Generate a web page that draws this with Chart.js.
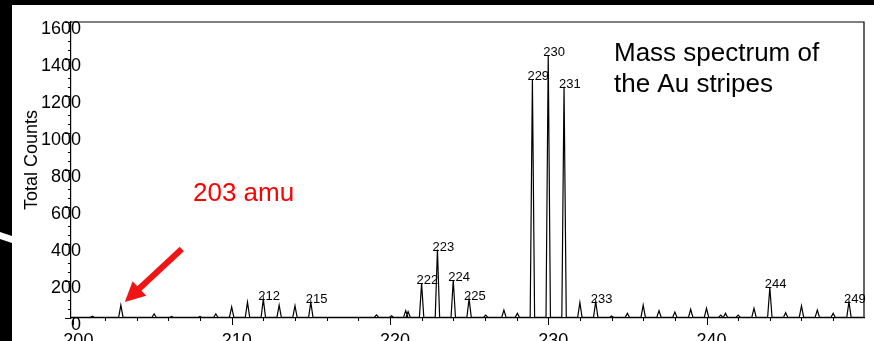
<!DOCTYPE html>
<html>
<head>
<meta charset="utf-8">
<script src="https://cdn.jsdelivr.net/npm/chart.js@4/dist/chart.umd.min.js"></script>
<style>
  html, body { margin: 0; padding: 0; background: #000; }
  #wrap { position: relative; width: 874px; height: 341px; }
  canvas { display: block; }
</style>
</head>
<body>
<div id="wrap"><canvas id="spec" width="874" height="341"></canvas></div>
<script>
// Peak positions (amu) and their total counts
const peakMass = [201.2, 203, 205.1, 206.2, 208, 209, 210, 211, 212, 213, 214, 215,
  219.15, 220.1, 221.0, 221.15, 222, 223, 224, 225, 226.05, 227.2, 228.05,
  229, 230, 231, 232, 233, 234, 235, 236, 237, 238, 239, 240, 240.9, 241.2,
  242, 243, 244, 245, 246, 247, 248, 249];
const peakCounts = [10, 70, 22, 8, 8, 22, 60, 86, 102, 70, 66, 86,
  17, 12, 40, 34, 187, 370, 205, 103, 16, 43, 25,
  1290, 1420, 1250, 83, 88, 11, 25, 70, 40, 32, 47, 52, 16, 25,
  16, 52, 165, 29, 65, 43, 25, 88];
// Background count level between peaks
const baseLevel = 3;
// Peaks carrying a mass label
const labeledMass = [212, 215, 222, 223, 224, 225, 229, 230, 231, 233, 244, 249];
// Axis ranges, tick labels and tick steps
const massRange = [199.85, 249.95];
const countRange = [0, 1600];
const massTickLabels = [200, 210, 220, 230, 240];
const countTickLabels = [0, 200, 400, 600, 800, 1000, 1200, 1400, 1600];
const massMinorStep = 2;
const countMinorStep = 50;

const FONT = "'Liberation Sans', Arial, sans-serif";
const PEAK_HALF_WIDTH = 0.14;

// spectrum trace: flat background with a narrow spike at each peak
const trace = [{ x: massRange[0], y: baseLevel }];
peakMass.forEach((m, i) => {
  trace.push({ x: m - PEAK_HALF_WIDTH, y: baseLevel });
  trace.push({ x: m, y: peakCounts[i] });
  trace.push({ x: m + PEAK_HALF_WIDTH, y: baseLevel });
});
trace.push({ x: massRange[1], y: baseLevel });

const decor = {
  id: 'decor',
  beforeDraw(chart) {
    const ctx = chart.ctx;
    ctx.save();
    ctx.fillStyle = '#000';
    ctx.fillRect(0, 0, chart.width, chart.height);
    ctx.fillStyle = '#fff';
    ctx.fillRect(12, 5, chart.width - 12, chart.height - 5);
    // light stroke on the dark margin
    ctx.beginPath();
    ctx.moveTo(0, 232); ctx.lineTo(12, 236); ctx.lineTo(12, 243); ctx.lineTo(0, 239);
    ctx.closePath();
    ctx.fill();
    ctx.restore();
  },
  afterDatasetsDraw(chart) {
    const ctx = chart.ctx;
    const a = chart.chartArea;
    const xs = chart.scales.x, ys = chart.scales.y;
    ctx.save();
    ctx.strokeStyle = '#000';
    ctx.lineWidth = 1.2;
    // frame top and right
    ctx.beginPath();
    ctx.moveTo(a.left, a.top); ctx.lineTo(a.right, a.top); ctx.lineTo(a.right, a.bottom);
    ctx.stroke();
    // mass axis tick marks: long at labelled masses, short in between
    ctx.lineWidth = 1;
    ctx.beginPath();
    for (let v = Math.ceil(xs.min / massMinorStep) * massMinorStep; v <= xs.max; v += massMinorStep) {
      const px = Math.round(xs.getPixelForValue(v)) + 0.5;
      const len = massTickLabels.includes(v) ? 7 : 3;
      ctx.moveTo(px, a.bottom); ctx.lineTo(px, a.bottom + len);
    }
    // count axis tick marks
    for (let v = ys.min; v <= ys.max; v += countMinorStep) {
      const py = Math.round(ys.getPixelForValue(v)) + 0.5;
      const len = countTickLabels.includes(v) ? 6 : 3;
      ctx.moveTo(a.left, py); ctx.lineTo(a.left - len, py);
    }
    ctx.stroke();

    // peak mass labels
    ctx.fillStyle = '#000';
    ctx.font = '13px ' + FONT;
    ctx.textAlign = 'left';
    ctx.textBaseline = 'alphabetic';
    labeledMass.forEach(m => {
      const i = peakMass.indexOf(m);
      const px = xs.getPixelForValue(m);
      const py = ys.getPixelForValue(peakCounts[i]);
      ctx.fillText(String(m), px - 5, py + 1);
    });

    // axis title
    ctx.save();
    ctx.translate(32, 160);
    ctx.rotate(-Math.PI / 2);
    ctx.textAlign = 'center';
    ctx.textBaseline = 'middle';
    ctx.font = '18px ' + FONT;
    ctx.fillText('Total Counts', 0, 0);
    ctx.restore();

    // caption
    ctx.font = '26px ' + FONT;
    ctx.fillStyle = '#000';
    ctx.fillText('Mass spectrum of', 614, 61);
    ctx.fillText('the Au stripes', 614, 92);

    // red note pointing to the 203 amu peak
    ctx.fillStyle = '#ff0000';
    ctx.font = '26px ' + FONT;
    ctx.fillText('203 amu', 193, 201);
    const tip = { x: xs.getPixelForValue(203.25), y: ys.getPixelForValue(86) };
    const tail = { x: xs.getPixelForValue(206.85), y: ys.getPixelForValue(373) };
    const dx = tip.x - tail.x, dy = tip.y - tail.y;
    const L = Math.hypot(dx, dy), ux = dx / L, uy = dy / L;
    const headLen = 20, headHalf = 10;
    const bx = tip.x - ux * headLen, by = tip.y - uy * headLen;
    ctx.strokeStyle = '#f01414';
    ctx.lineWidth = 6;
    ctx.beginPath();
    ctx.moveTo(tail.x, tail.y); ctx.lineTo(bx + ux * 2, by + uy * 2);
    ctx.stroke();
    ctx.fillStyle = '#f01414';
    ctx.beginPath();
    ctx.moveTo(tip.x, tip.y);
    ctx.lineTo(bx - uy * headHalf, by + ux * headHalf);
    ctx.lineTo(bx + uy * headHalf, by - ux * headHalf);
    ctx.closePath();
    ctx.fill();
    ctx.restore();
  }
};

new Chart(document.getElementById('spec'), {
  type: 'line',
  data: {
    datasets: [{
      data: trace,
      borderColor: '#000',
      borderWidth: 1.2,
      pointRadius: 0,
      tension: 0,
      fill: false
    }]
  },
  options: {
    responsive: false,
    animation: false,
    devicePixelRatio: 1,
    layout: { padding: { left: 0, top: 22, right: 10, bottom: 0 } },
    plugins: { legend: { display: false }, tooltip: { enabled: false } },
    scales: {
      x: {
        type: 'linear',
        min: massRange[0],
        max: massRange[1],
        grid: { display: false, drawTicks: false },
        border: { display: true, color: '#000', width: 1.2 },
        afterBuildTicks(s) { s.ticks = massTickLabels.map(v => ({ value: v })); },
        ticks: {
          autoSkip: false,
          maxRotation: 0,
          padding: 12,
          labelOffset: 5,
          color: '#000',
          font: { family: FONT, size: 18 },
          callback: v => String(v)
        },
        afterFit(s) { s.height = 23; }
      },
      y: {
        type: 'linear',
        min: countRange[0],
        max: countRange[1],
        grid: { display: false, drawTicks: false },
        border: { display: true, color: '#000', width: 1.2 },
        afterBuildTicks(s) { s.ticks = countTickLabels.map(v => ({ value: v })); },
        ticks: {
          mirror: true,
          crossAlign: 'far',
          padding: -30,
          labelOffset: 7,
          color: '#000',
          font: { family: FONT, size: 18 },
          callback: v => String(v)
        },
        afterFit(s) { s.width = 71; }
      }
    }
  },
  plugins: [decor]
});
</script>
</body>
</html>
